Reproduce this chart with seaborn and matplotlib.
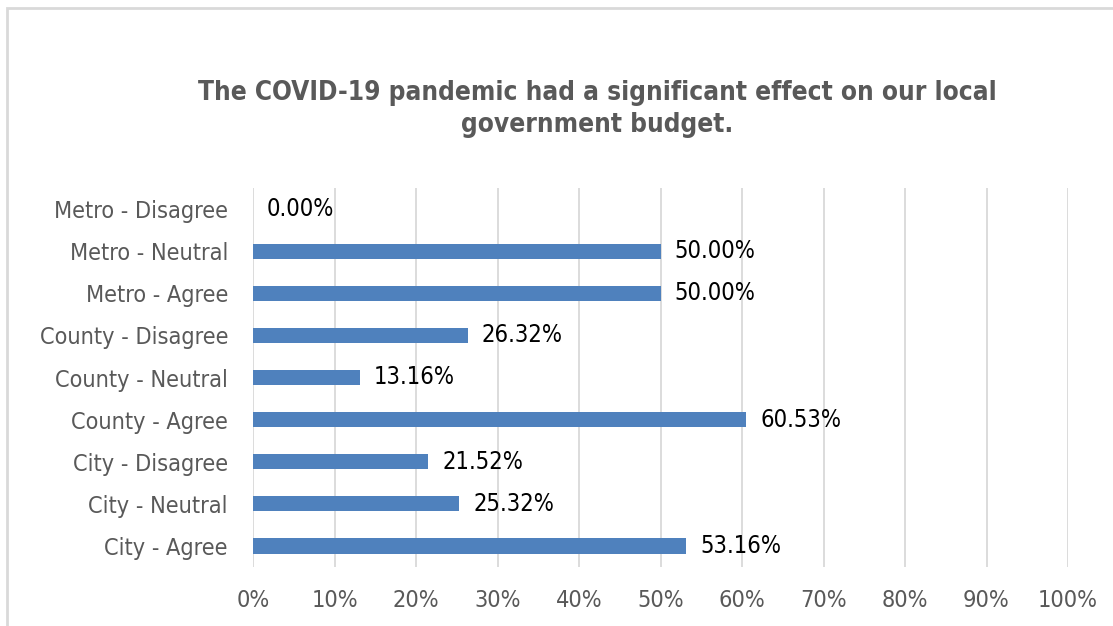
import matplotlib
matplotlib.use("Agg")
import matplotlib.pyplot as plt
import matplotlib.patches as patches
import seaborn as sns
import pandas as pd

# Chart data, top row first
categories = [
    "Metro - Disagree", "Metro - Neutral", "Metro - Agree",
    "County - Disagree", "County - Neutral", "County - Agree",
    "City - Disagree", "City - Neutral", "City - Agree",
]
shares = [0.00, 50.00, 50.00, 26.32, 13.16, 60.53, 21.52, 25.32, 53.16]
x_ticks = [0, 10, 20, 30, 40, 50, 60, 70, 80, 90, 100]
title = ("The COVID-19 pandemic had a significant effect on our local\n"
         "government budget.")

sns.set_theme(style="white")
plt.rcParams["font.family"] = ["DejaVu Sans Condensed", "DejaVu Sans"]
plt.rcParams["font.stretch"] = "condensed"

gray_text = "#595959"
grid_color = "#D9D9D9"
bar_color = "#4F81BD"

df = pd.DataFrame({"category": categories, "share": shares})

fig = plt.figure(figsize=(11.13, 6.26), dpi=100)
ax = fig.add_axes([253 / 1113, 1 - 567 / 626, 815 / 1113, 379 / 626])

sns.barplot(data=df, x="share", y="category", orient="h", color=bar_color,
            width=0.36, saturation=1, linewidth=0, ax=ax)

ax.set_xlim(0, 100)
ax.set_ylim(len(categories) - 0.5, -0.5)
ax.set_xticks(x_ticks)
ax.set_xticklabels([f"{t}%" for t in x_ticks])
ax.set_xlabel("")
ax.set_ylabel("")

ax.grid(axis="x", color=grid_color, linewidth=1.3)
ax.grid(axis="y", visible=False)
ax.set_axisbelow(True)
for s in ax.spines.values():
    s.set_visible(False)

ax.tick_params(axis="y", length=0, pad=18, labelsize=16.8, labelcolor=gray_text)
ax.tick_params(axis="x", length=0, pad=16, labelsize=16.8, labelcolor=gray_text)

ax.bar_label(ax.containers[0], labels=[f"{v:.2f}%" for v in shares],
             padding=10, fontsize=17, color="black")

fig.text(597 / 1113, 1 - 108.5 / 626, title, ha="center", va="center",
         fontsize=18.8, fontweight="bold", color=gray_text, linespacing=1.3)

# light frame of the chart area
fig.patches.append(patches.Rectangle((7 / 1113, -0.1), 2, 1 - 8 / 626 + 0.1,
                                     transform=fig.transFigure, fill=False,
                                     edgecolor=grid_color, linewidth=2))

fig.savefig("out.png", dpi=100)
